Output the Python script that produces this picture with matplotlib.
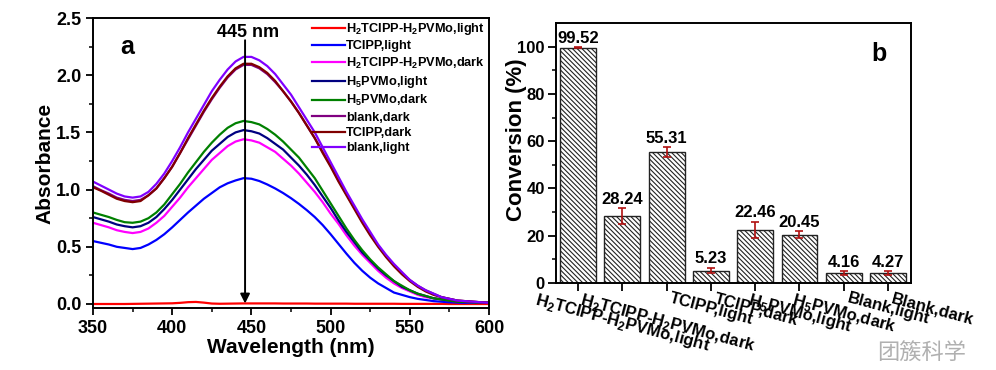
import matplotlib
matplotlib.use("Agg")
import matplotlib.pyplot as plt
from matplotlib.transforms import ScaledTranslation

plt.rcParams["font.family"] = ["Liberation Sans", "DejaVu Sans"]
plt.rcParams["font.weight"] = "bold"
plt.rcParams["axes.labelweight"] = "bold"
plt.rcParams["mathtext.fontset"] = "custom"
plt.rcParams["mathtext.rm"] = "Liberation Sans:bold"
plt.rcParams["mathtext.bf"] = "Liberation Sans:bold"
plt.rcParams["axes.linewidth"] = 1.4
plt.rcParams["hatch.linewidth"] = 0.8

# ---- panel a: UV-vis spectra ----
wavelength = list(range(350, 601, 5))

a_h2tcipp_light = [0.0, 0.0, 0.0, 0.0, 0.0, 0.001, 0.002, 0.003, 0.004, 0.005,
                   0.006, 0.010, 0.016, 0.018, 0.012, 0.004, 0.002, 0.003, 0.004, 0.005,
                   0.005, 0.005, 0.005, 0.005, 0.004, 0.004, 0.004, 0.004, 0.003, 0.003,
                   0.003, 0.003, 0.003, 0.002, 0.002, 0.002, 0.002, 0.002, 0.002, 0.001,
                   0.001, 0.001, 0.001, 0.001, 0.001, 0.0, 0.0, 0.0, 0.0, 0.0, 0.0]
a_tcipp_light = [0.55, 0.535, 0.52, 0.50, 0.49, 0.48, 0.49, 0.52, 0.56, 0.61,
                 0.67, 0.735, 0.80, 0.86, 0.92, 0.97, 1.02, 1.055, 1.08, 1.10,
                 1.095, 1.075, 1.045, 1.01, 0.97, 0.925, 0.875, 0.82, 0.76, 0.69,
                 0.61, 0.525, 0.44, 0.36, 0.29, 0.23, 0.18, 0.14, 0.10, 0.08,
                 0.06, 0.045, 0.035, 0.025, 0.02, 0.015, 0.012, 0.01, 0.01, 0.01, 0.01]
a_h2tcipp_dark = [0.71, 0.69, 0.67, 0.645, 0.63, 0.62, 0.63, 0.66, 0.71, 0.77,
                  0.85, 0.93, 1.02, 1.10, 1.18, 1.26, 1.32, 1.38, 1.42, 1.44,
                  1.43, 1.41, 1.37, 1.33, 1.27, 1.21, 1.14, 1.06, 0.98, 0.89,
                  0.79, 0.70, 0.60, 0.51, 0.43, 0.36, 0.29, 0.23, 0.18, 0.14,
                  0.11, 0.08, 0.06, 0.05, 0.04, 0.03, 0.02, 0.018, 0.015, 0.012, 0.01]
a_h5pvmo_light = [0.76, 0.74, 0.72, 0.695, 0.68, 0.67, 0.68, 0.71, 0.76, 0.83,
                  0.91, 1.00, 1.09, 1.18, 1.26, 1.34, 1.40, 1.46, 1.50, 1.52,
                  1.51, 1.49, 1.45, 1.40, 1.35, 1.28, 1.21, 1.13, 1.04, 0.94,
                  0.84, 0.73, 0.63, 0.54, 0.45, 0.38, 0.31, 0.25, 0.20, 0.15,
                  0.12, 0.09, 0.07, 0.05, 0.04, 0.03, 0.02, 0.018, 0.015, 0.012, 0.01]
a_h5pvmo_dark = [0.80, 0.78, 0.76, 0.735, 0.715, 0.71, 0.72, 0.75, 0.80, 0.87,
                 0.96, 1.05, 1.15, 1.24, 1.33, 1.41, 1.48, 1.54, 1.58, 1.60,
                 1.59, 1.57, 1.53, 1.48, 1.42, 1.35, 1.28, 1.19, 1.10, 0.99,
                 0.88, 0.77, 0.66, 0.56, 0.47, 0.39, 0.32, 0.26, 0.20, 0.16,
                 0.12, 0.09, 0.07, 0.05, 0.04, 0.03, 0.02, 0.018, 0.015, 0.012, 0.01]
a_blank_dark = [1.03, 0.995, 0.965, 0.93, 0.91, 0.90, 0.91, 0.95, 1.01, 1.10,
                1.20, 1.32, 1.44, 1.56, 1.68, 1.79, 1.89, 1.98, 2.05, 2.09,
                2.09, 2.06, 2.01, 1.94, 1.86, 1.77, 1.67, 1.56, 1.45, 1.33,
                1.21, 1.08, 0.96, 0.84, 0.72, 0.61, 0.51, 0.42, 0.34, 0.27,
                0.21, 0.16, 0.12, 0.09, 0.06, 0.045, 0.03, 0.025, 0.02, 0.015, 0.01]
a_tcipp_dark = [1.02, 0.99, 0.955, 0.92, 0.90, 0.89, 0.90, 0.95, 1.01, 1.10,
                1.20, 1.32, 1.45, 1.57, 1.69, 1.80, 1.90, 1.99, 2.06, 2.10,
                2.10, 2.07, 2.02, 1.95, 1.86, 1.77, 1.67, 1.56, 1.45, 1.32,
                1.20, 1.07, 0.95, 0.83, 0.71, 0.60, 0.50, 0.41, 0.33, 0.26,
                0.20, 0.15, 0.11, 0.08, 0.06, 0.045, 0.03, 0.025, 0.02, 0.015, 0.01]
a_blank_light = [1.07, 1.035, 1.00, 0.965, 0.94, 0.93, 0.94, 0.98, 1.05, 1.14,
                 1.25, 1.37, 1.50, 1.62, 1.74, 1.86, 1.96, 2.05, 2.12, 2.16,
                 2.16, 2.13, 2.08, 2.01, 1.92, 1.83, 1.72, 1.61, 1.50, 1.37,
                 1.24, 1.11, 0.98, 0.86, 0.74, 0.63, 0.52, 0.43, 0.35, 0.28,
                 0.21, 0.16, 0.12, 0.09, 0.06, 0.045, 0.03, 0.025, 0.02, 0.015, 0.01]

spectra = [
    (a_h2tcipp_light, r"H$_\mathbf{2}$TCIPP-H$_\mathbf{2}$PVMo,light", "#FF0000"),
    (a_tcipp_light, "TCIPP,light", "#0000FF"),
    (a_h2tcipp_dark, r"H$_\mathbf{2}$TCIPP-H$_\mathbf{2}$PVMo,dark", "#FF00FF"),
    (a_h5pvmo_light, r"H$_\mathbf{5}$PVMo,light", "#000080"),
    (a_h5pvmo_dark, r"H$_\mathbf{5}$PVMo,dark", "#008000"),
    (a_blank_dark, "blank,dark", "#800080"),
    (a_tcipp_dark, "TCIPP,dark", "#800000"),
    (a_blank_light, "blank,light", "#8000FF"),
]

# ---- panel b: conversion bars ----
samples = [r"H$_\mathbf{2}$TCIPP-H$_\mathbf{2}$PVMo,light",
           r"H$_\mathbf{2}$TCIPP-H$_\mathbf{2}$PVMo,dark",
           "TCIPP,light", "TCIPP,dark",
           r"H$_\mathbf{5}$PVMo,light", r"H$_\mathbf{5}$PVMo,dark",
           "Blank,light", "Blank,dark"]
conversion = [99.52, 28.24, 55.31, 5.23, 22.46, 20.45, 4.16, 4.27]
conv_err = [0.3, 3.3, 2.2, 1.2, 3.5, 1.4, 0.9, 0.8]

fig = plt.figure(figsize=(9.96, 3.70), dpi=100)

ax1 = fig.add_axes([93 / 996, 62 / 370, 396 / 996, 290 / 370])
for vals, lab, col in spectra:
    ax1.plot(wavelength, vals, color=col, lw=1.6, label=lab)
ax1.set_xlim(350, 600)
ax1.set_ylim(-0.035, 2.5)
ax1.set_xticks([350, 400, 450, 500, 550, 600])
ax1.set_xticks(range(375, 600, 50), minor=True)
ax1.set_yticks([0.0, 0.5, 1.0, 1.5, 2.0, 2.5])
ax1.set_yticks([0.25, 0.75, 1.25, 1.75, 2.25], minor=True)
ax1.tick_params(which="major", direction="out", length=5, width=1.3, labelsize=13)
ax1.tick_params(which="minor", direction="out", length=3, width=1.1)
ax1.set_xlabel("Wavelength (nm)", fontsize=15, labelpad=1)
ax1.set_ylabel("Absorbance", fontsize=15, labelpad=1)
ax1.annotate("", xy=(446, -0.02), xytext=(446, 2.33),
             arrowprops=dict(arrowstyle="-|>", color="black", lw=1.4, mutation_scale=14))
ax1.text(448, 2.37, "445 nm", ha="center", va="center", fontsize=13)
ax1.text(0.086, 0.90, "a", transform=ax1.transAxes, fontsize=18, ha="center", va="center")
ax1.legend(loc="upper left", bbox_to_anchor=(312 / 996, 1 - 21 / 370),
           bbox_transform=fig.transFigure, frameon=False, fontsize=9.2,
           handlelength=2.6, handletextpad=0.05, labelspacing=0.26,
           borderpad=0, borderaxespad=0)

ax2 = fig.add_axes([556 / 996, 87 / 370, 355 / 996, 260 / 370])
pos = list(range(len(samples)))
ax2.bar(pos, conversion, width=0.81, color="white", edgecolor="#222222",
        linewidth=1.0, hatch="\\" * 7)
ax2.errorbar(pos, conversion, yerr=conv_err, fmt="none", ecolor="#B01010",
             elinewidth=1.2, capsize=3, capthick=1.2)
for x, v, e in zip(pos, conversion, conv_err):
    ax2.annotate(f"{v:.2f}", (x, v + e), xytext=(0, 1), textcoords="offset points",
                 ha="center", va="bottom", fontsize=12)
ax2.set_xlim(-0.5, 7.52)
ax2.set_ylim(0, 110)
ax2.set_yticks([0, 20, 40, 60, 80, 100])
ax2.set_yticks([10, 30, 50, 70, 90], minor=True)
ax2.set_xticks(pos)
ax2.set_xticklabels([])
label_shift = ax2.get_xaxis_transform() + ScaledTranslation(0.45, -0.08, fig.dpi_scale_trans)
for x, name in zip(pos, samples):
    ax2.text(x, 0, name, transform=label_shift, rotation=-15, ha="center", va="top",
             fontsize=12)
ax2.tick_params(which="major", direction="out", length=6, width=1.3, labelsize=12, pad=2)
ax2.tick_params(which="minor", direction="out", length=3, width=1.1)
ax2.set_ylabel("Conversion (%)", fontsize=16)
ax2.yaxis.set_label_coords(-0.082, 0.55)
ax2.text(0.911, 0.88, "b", transform=ax2.transAxes, fontsize=18, ha="center", va="center")

fig.text(0.97, 0.045, "团簇科学", fontsize=16, color="#b0b0b0", ha="right", va="center",
         family=["Noto Sans CJK SC", "DejaVu Sans"], fontweight="normal")

fig.savefig("out.png", dpi=100)
